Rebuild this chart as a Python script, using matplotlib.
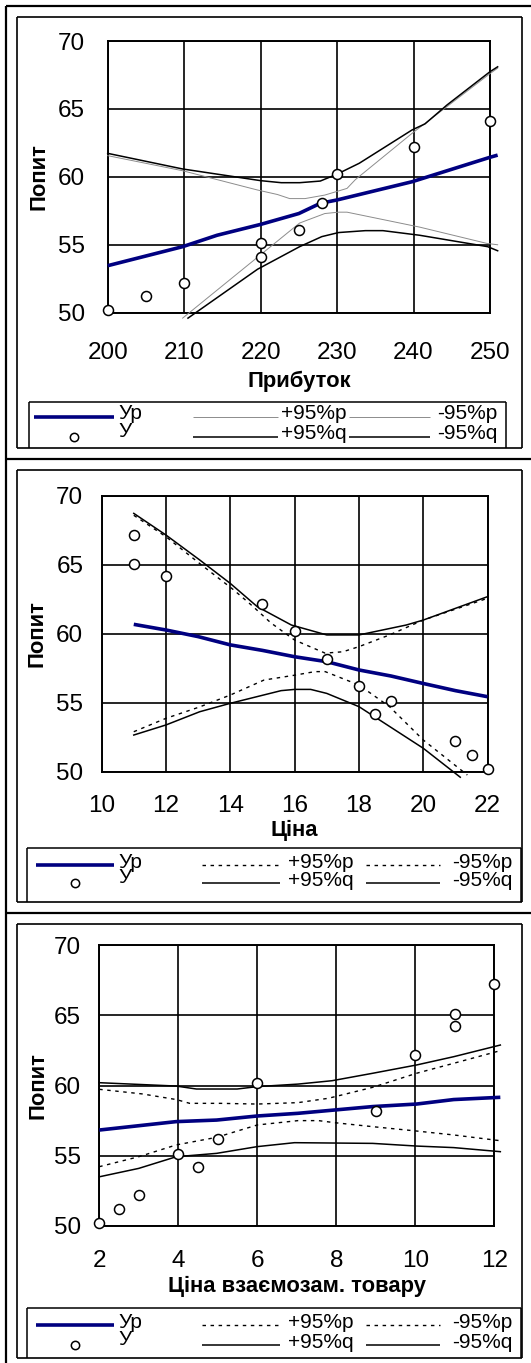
import matplotlib
matplotlib.use("Agg")
import matplotlib.pyplot as plt
from matplotlib.lines import Line2D
from matplotlib.transforms import Bbox, TransformedBbox

plt.rcParams['font.family'] = ['Liberation Sans', 'DejaVu Sans']

W, H, DPI = 531, 1363, 100

# ---------------- data ----------------
# Panel 1: demand vs profit
profit_obs_x = [200, 205, 210, 220, 220, 225, 228, 230, 240, 250]
profit_obs_y = [50.2, 51.2, 52.2, 55.1, 54.1, 56.1, 58.1, 60.2, 62.2, 64.1]
profit_fit_x = [200, 209.8, 214.3, 220, 225, 227.8, 230, 239.8, 250, 251]
profit_fit_y = [53.46, 54.86, 55.7, 56.5, 57.3, 58.05, 58.3, 59.64, 61.44, 61.6]
profit_uq_x = [200, 209.8, 220, 222.7, 225.1, 227.8, 230, 232.9, 236, 239.8, 241.5, 244.4, 250, 251]
profit_uq_y = [61.73, 60.58, 59.72, 59.57, 59.57, 59.69, 60.2, 61.0, 62.1, 63.45, 63.9, 65.3, 67.74, 68.1]
profit_up_x = [200, 209.8, 219.6, 222.2, 223.8, 225.8, 228.4, 231.3, 232.4, 239.8, 250, 251]
profit_up_y = [61.56, 60.45, 59.03, 58.7, 58.4, 58.4, 58.66, 59.15, 59.8, 63.2, 67.6, 68.0]
profit_lp_x = [209.8, 225.1, 228.4, 230.2, 231.3, 240.8, 249.6, 251]
profit_lp_y = [49.6, 56.6, 57.3, 57.4, 57.4, 56.3, 55.1, 55.0]
profit_lq_x = [210.5, 219.6, 225.1, 228, 230.2, 233.7, 236, 240.8, 249.7, 251]
profit_lq_y = [49.6, 53.2, 54.86, 55.6, 55.9, 56.04, 56.04, 55.7, 54.86, 54.56]

# Panel 2: demand vs price
price_obs_x = [11, 11, 12, 15, 16, 17, 18, 18.5, 19, 21, 21.5, 22]
price_obs_y = [67.2, 65.1, 64.2, 62.2, 60.2, 58.2, 56.2, 54.2, 55.1, 52.2, 51.2, 50.2]
price_fit_x = [11, 12, 13, 14, 15, 16, 17, 18, 19, 20, 21, 22]
price_fit_y = [60.69, 60.28, 59.8, 59.2, 58.8, 58.34, 57.98, 57.38, 56.94, 56.4, 55.88, 55.44]
price_uq_x = [11, 12, 13.05, 14, 14.84, 15.9, 17, 18, 19.47, 20, 22]
price_uq_y = [68.74, 67.17, 65.36, 63.66, 61.97, 60.64, 59.92, 59.92, 60.64, 61.0, 62.7]
price_up_x = [11, 12, 13.05, 14.1, 14.7, 15.26, 16, 16.95, 17.5, 18, 18.95, 20, 22]
price_up_y = [68.6, 67.05, 65.1, 63.2, 62.0, 60.8, 59.55, 58.6, 58.7, 59.07, 59.92, 61.0, 62.58]
price_lp_x = [11, 12, 13.05, 14, 15.05, 16, 16.63, 16.95, 18, 18.95, 20, 21.37]
price_lp_y = [52.9, 53.87, 54.7, 55.56, 56.65, 57.0, 57.26, 57.26, 56.29, 54.72, 52.3, 49.76]
price_lq_x = [11, 12, 13.05, 14, 15.58, 16, 16.5, 17, 18, 20, 21.15]
price_lq_y = [52.66, 53.39, 54.35, 54.96, 55.88, 55.97, 55.97, 55.68, 54.72, 51.7, 49.6]

# Panel 3: demand vs price of the substitute good
subst_obs_x = [2, 2.5, 3, 4, 4.5, 5, 6, 9, 10, 11, 11, 12]
subst_obs_y = [50.2, 51.2, 52.2, 55.1, 54.2, 56.2, 60.2, 58.2, 62.2, 65.1, 64.2, 67.2]
subst_fit_x = [2, 3.95, 4.97, 6, 7.03, 7.97, 8.92, 10.03, 10.97, 12.15]
subst_fit_y = [56.83, 57.43, 57.54, 57.83, 58.02, 58.26, 58.5, 58.68, 59.0, 59.16]
subst_uq_x = [2, 3.95, 4.46, 5.49, 6, 7.03, 7.89, 8.92, 10.03, 10.97, 12.15]
subst_uq_y = [60.2, 59.96, 59.75, 59.75, 59.92, 60.1, 60.34, 60.87, 61.46, 62.05, 62.88]
subst_up_x = [2, 3.09, 3.95, 4.29, 5.06, 6, 7.03, 7.8, 8.92, 10.03, 10.97, 12.15]
subst_up_y = [59.73, 59.4, 59.0, 58.73, 58.73, 58.68, 58.78, 59.09, 59.87, 60.87, 61.58, 62.48]
subst_lp_x = [2, 3, 3.95, 4.97, 6, 7.03, 7.55, 7.97, 8.92, 10.03, 10.97, 12.15]
subst_lp_y = [54.22, 54.93, 55.77, 56.31, 57.19, 57.5, 57.5, 57.35, 57.07, 56.76, 56.48, 56.07]
subst_lq_x = [2, 3, 3.95, 4.97, 6, 6.94, 8.92, 10.03, 10.97, 12.15]
subst_lq_y = [53.5, 54.1, 54.93, 55.17, 55.65, 55.93, 55.88, 55.69, 55.58, 55.29]

y_ticks = [50, 55, 60, 65, 70]
profit_ticks = [200, 210, 220, 230, 240, 250]
price_ticks = [10, 12, 14, 16, 18, 20, 22]
subst_ticks = [2, 4, 6, 8, 10, 12]

y_label = "Попит"
x_labels = ["Прибуток", "Ціна", "Ціна взаємозам. товару"]
legend_labels = [["Ур", "У"], ["+95%p", "+95%q"], ["-95%p", "-95%q"]]

NAVY = "#000080"

fig = plt.figure(figsize=(W / DPI, H / DPI), dpi=DPI)
fig.patch.set_facecolor("white")


def fx(x):
    return x / W


def fy(y):
    return 1 - y / H


def seg(x0, y0, x1, y1, lw=1.2, color="black", **kw):
    ln = Line2D([fx(x0), fx(x1)], [fy(y0), fy(y1)], color=color, lw=lw,
                transform=fig.transFigure, solid_capstyle="butt", **kw)
    fig.add_artist(ln)
    return ln


def frame_clip(frame):
    l, t, r, b = frame
    bb = Bbox.from_extents(fx(l), fy(b), fx(r), fy(t))
    return TransformedBbox(bb, fig.transFigure)


DASHED = dict(color="black", lw=1.0, linestyle=(0, (2.5, 3.3)))

panels = [
    dict(frame=(17, 17, 522, 448), plot=(107.7, 41, 490, 312.7),
         xlim=(200, 250), xticks=profit_ticks, xpad=21.0, ypad=16.5,
         xlabel_y=381.7, ylabel_x=39,
         obs=(profit_obs_x, profit_obs_y), fit=(profit_fit_x, profit_fit_y),
         uq=(profit_uq_x, profit_uq_y), lq=(profit_lq_x, profit_lq_y),
         up=(profit_up_x, profit_up_y), lp=(profit_lp_x, profit_lp_y),
         p_style=dict(color="#8c8c8c", lw=0.7, linestyle="-"),
         leg_box=(28.8, 402, 506), rows=(416.7, 436.7),
         cols=[(33.9, 113.5, 118.6), (193, 277.8, 280.5), (349, 430, 437)]),
    dict(frame=(17, 470, 522, 902), plot=(101.6, 496, 487.6, 771.7),
         xlim=(10, 22), xticks=price_ticks, xpad=16.5, ypad=13.2,
         xlabel_y=830, ylabel_x=37.3,
         obs=(price_obs_x, price_obs_y), fit=(price_fit_x, price_fit_y),
         uq=(price_uq_x, price_uq_y), lq=(price_lq_x, price_lq_y),
         up=(price_up_x, price_up_y), lp=(price_lp_x, price_lp_y),
         p_style=DASHED,
         leg_box=(27.1, 848.3, 520.5), rows=(865, 883.3),
         cols=[(35.6, 113.5, 118.6), (201.6, 279.5, 288), (365.9, 440.4, 452)]),
    dict(frame=(17, 924, 522, 1357.5), plot=(99.2, 945, 494.4, 1226),
         xlim=(2, 12), xticks=subst_ticks, xpad=17.0, ypad=13.0,
         xlabel_y=1286.7, ylabel_x=38,
         obs=(subst_obs_x, subst_obs_y), fit=(subst_fit_x, subst_fit_y),
         uq=(subst_uq_x, subst_uq_y), lq=(subst_lq_x, subst_lq_y),
         up=(subst_up_x, subst_up_y), lp=(subst_lp_x, subst_lp_y),
         p_style=DASHED,
         leg_box=(27.1, 1308.3, 520.5), rows=(1325, 1345),
         cols=[(35.6, 113.5, 118.6), (201.6, 279.5, 288), (365.9, 440.4, 452)]),
]

# sheet grid lines around the panels
seg(6, 6, 531, 6, lw=1.6)
seg(6, 6, 6, H, lw=1.6)
seg(6, 459, 531, 459, lw=1.6)
seg(6, 913, 531, 913, lw=1.6)

for i, p in enumerate(panels):
    l, t, r, b = p["plot"]
    ax = fig.add_axes([fx(l), fy(b), fx(r) - fx(l), fy(t) - fy(b)])
    ax.set_facecolor("white")
    ax.set_xlim(*p["xlim"])
    ax.set_ylim(50, 70)
    ax.set_xticks(p["xticks"])
    ax.set_yticks(y_ticks)
    ax.grid(True, color="black", lw=1.2)
    ax.set_axisbelow(True)
    for s in ax.spines.values():
        s.set_color("black")
        s.set_linewidth(1.4)
    ax.tick_params(axis="x", length=0, pad=p["xpad"], labelsize=17.5)
    ax.tick_params(axis="y", length=0, pad=p["ypad"], labelsize=17.5)

    ps = p["p_style"]
    ax.plot(*p["up"], clip_on=False, zorder=3, **ps)
    ax.plot(*p["lp"], clip_on=False, zorder=3, **ps)
    ax.plot(*p["uq"], color="black", lw=1.1, clip_on=False, zorder=3)
    ax.plot(*p["lq"], color="black", lw=1.1, clip_on=False, zorder=3)
    ax.plot(*p["fit"], color=NAVY, lw=2.6, clip_on=False, zorder=4,
            solid_capstyle="butt")
    ax.plot(*p["obs"], linestyle="none", marker="o", ms=7.2, mfc="white",
            mec="black", mew=1.1, clip_on=False, zorder=5)

    # axis titles
    fig.text(fx((l + r) / 2), fy(p["xlabel_y"]), x_labels[i], ha="center",
             va="center", fontsize=15.8, fontweight="bold")
    fig.text(fx(p["ylabel_x"]), fy((t + b) / 2), y_label, ha="center",
             va="center", rotation=90, fontsize=15.8, fontweight="bold")

    # chart frame
    fl, ft, fr, fb = p["frame"]
    seg(fl, ft, fr, ft, lw=1.2)
    seg(fl, fb, fr, fb, lw=1.2)
    seg(fl, ft, fl, fb, lw=1.2)
    seg(fr, ft, fr, fb, lw=1.2)

    # legend, cut off by the bottom of the frame
    clip = frame_clip(p["frame"])
    bl, bt, br = p["leg_box"]
    seg(bl, bt, br, bt, lw=1.1)
    seg(bl, bt, bl, fb, lw=1.1)
    seg(br, bt, br, fb, lw=1.1)
    r1, r2 = p["rows"]
    (c1a, c1b, c1t), (c2a, c2b, c2t), (c3a, c3b, c3t) = p["cols"]
    seg(c1a, r1, c1b, r1, lw=2.6, color=NAVY)
    fig.add_artist(Line2D([fx((c1a + c1b) / 2)], [fy(r2)], linestyle="none",
                          marker="o", ms=6, mfc="white", mec="black", mew=1.1,
                          transform=fig.transFigure))
    seg(c2a, r1, c2b, r1, **ps)
    seg(c3a, r1, c3b, r1, **ps)
    seg(c2a, r2, c2b, r2, lw=1.1)
    seg(c3a, r2, c3b, r2, lw=1.1)
    for (tx, col) in [(c1t, 0), (c2t, 1), (c3t, 2)]:
        for k, ry in enumerate((r1, r2)):
            yy = ry - 5.5 if (col == 0 and k == 1) else ry - 3
            txt = fig.text(fx(tx), fy(yy), legend_labels[col][k], ha="left",
                           va="center", fontsize=15)
            txt.set_clip_box(clip)
            txt.set_clip_on(True)

fig.savefig("out.png", dpi=DPI, facecolor="white")
